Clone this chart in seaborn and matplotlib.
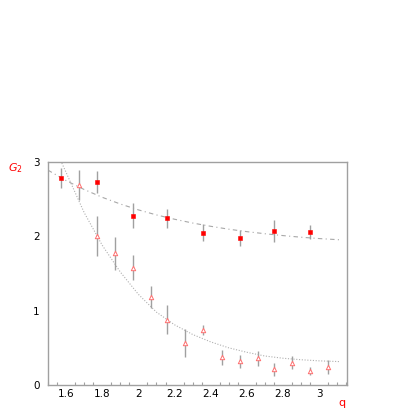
import numpy as np
import pandas as pd
import seaborn as sns
import matplotlib
matplotlib.use("Agg")
import matplotlib.pyplot as plt
from matplotlib.ticker import MultipleLocator

# filled points (upper series)
q_fill = [1.57, 1.77, 1.97, 2.16, 2.36, 2.56, 2.75, 2.95]
g_fill = [2.79, 2.73, 2.28, 2.24, 2.05, 1.98, 2.07, 2.06]
e_fill = [0.135, 0.145, 0.17, 0.13, 0.11, 0.11, 0.145, 0.09]

# open points (lower series)
q_open = [1.67, 1.77, 1.87, 1.97, 2.07, 2.16, 2.26, 2.36, 2.46, 2.56,
          2.66, 2.75, 2.85, 2.95, 3.05]
g_open = [2.69, 2.01, 1.77, 1.58, 1.18, 0.88, 0.56, 0.74, 0.37, 0.32,
          0.36, 0.21, 0.30, 0.19, 0.24]
e_open = [0.20, 0.27, 0.22, 0.17, 0.15, 0.20, 0.19, 0.07, 0.095, 0.085,
          0.10, 0.085, 0.09, 0.05, 0.09]

# fit curves
q_fit_up = [1.5, 1.6, 1.7, 1.8, 1.9, 2.0, 2.1, 2.2, 2.3, 2.4, 2.5, 2.6,
            2.7, 2.8, 2.9, 3.0, 3.11]
g_fit_up = [2.89, 2.75, 2.63, 2.525, 2.435, 2.356, 2.288, 2.23, 2.179,
            2.135, 2.096, 2.063, 2.035, 2.01, 1.988, 1.97, 1.954]
q_fit_lo = [1.57, 1.6, 1.7, 1.8, 1.9, 2.0, 2.1, 2.2, 2.3, 2.4, 2.5, 2.6,
            2.7, 2.8, 2.9, 3.0, 3.11]
g_fit_lo = [3.02, 2.86, 2.32, 1.88, 1.52, 1.22, 0.98, 0.81, 0.68, 0.58,
            0.50, 0.44, 0.39, 0.36, 0.34, 0.325, 0.315]

x_ticks = [1.6, 1.8, 2.0, 2.2, 2.4, 2.6, 2.8, 3.0]
x_labels = ["1.6", "1.8", "2", "2.2", "2.4", "2.6", "2.8", "3"]
y_ticks = [0, 1, 2, 3]

sns.set_style("white")
plt.rcParams["font.family"] = ["DejaVu Sans"]

fig = plt.figure(figsize=(4.15, 4.15), dpi=100)
ax = fig.add_axes([48 / 415, 30 / 415, 299 / 415, 223 / 415])

up = pd.DataFrame({"q": q_fit_up, "g": g_fit_up})
lo = pd.DataFrame({"q": q_fit_lo, "g": g_fit_lo})
sns.lineplot(data=up, x="q", y="g", ax=ax, color="#a8a8a8", lw=0.8,
             linestyle=(0, (4, 3, 1, 3)))
sns.lineplot(data=lo, x="q", y="g", ax=ax, color="#b0b0b0", lw=0.8,
             linestyle=(0, (1, 1.5)))

ax.errorbar(q_fill, g_fill, yerr=e_fill, fmt="none", ecolor="#a0a0a0",
            elinewidth=1.0, capsize=0)
ax.errorbar(q_open, g_open, yerr=e_open, fmt="none", ecolor="#a0a0a0",
            elinewidth=1.0, capsize=0)
sns.scatterplot(x=q_fill, y=g_fill, ax=ax, marker="s", s=8, color="#ff0000",
                edgecolor="#ff0000", linewidth=0.4, zorder=5)
sns.scatterplot(x=q_open, y=g_open, ax=ax, marker="^", s=10,
                facecolor="white", edgecolor="#ff7070", linewidth=0.7,
                zorder=5)

ax.set_xlim(1.5, 3.154)
ax.set_ylim(0, 3.0)
ax.set_xticks(x_ticks)
ax.set_xticklabels(x_labels)
ax.set_yticks(y_ticks)
ax.xaxis.set_minor_locator(MultipleLocator(0.05))
ax.tick_params(axis="both", which="major", direction="in", length=5,
               width=0.8, color="#a0a0a0", labelsize=7.5, labelcolor="black",
               pad=3)
ax.tick_params(axis="x", which="minor", direction="in", length=2.5,
               width=0.8, color="#a0a0a0", bottom=True)
ax.tick_params(axis="y", pad=6)
ax.set_xlabel("")
ax.set_ylabel("")
for sp in ax.spines.values():
    sp.set_color("#a0a0a0")
    sp.set_linewidth(1.0)

fig.text(15 / 415, 1 - 168 / 415, "$G_2$", color="#ff0000", fontsize=8,
         ha="center", va="center")
fig.text(342 / 415, 1 - 403 / 415, "q", color="#ff0000", fontsize=8,
         ha="center", va="center")

fig.savefig("out.png", dpi=100)
